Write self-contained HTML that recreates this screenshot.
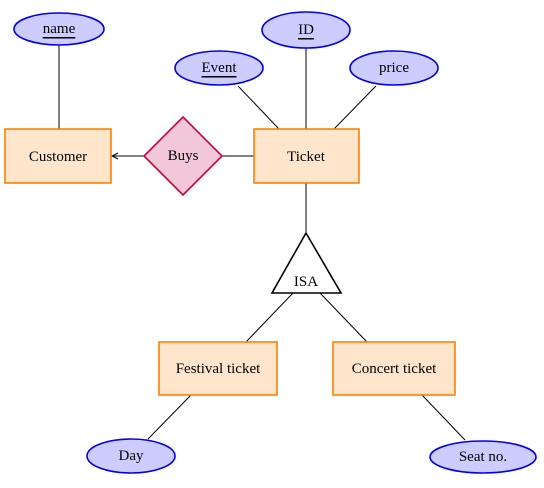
<!DOCTYPE html>
<html><head><meta charset="utf-8"><style>
html,body{margin:0;padding:0;background:#fff;}
svg{display:block;}
text{font-family:"Liberation Serif",serif;font-size:15px;fill:#000;text-anchor:middle;dominant-baseline:central;}
</style></head><body>
<svg width="544" height="488" viewBox="0 0 544 488" xmlns="http://www.w3.org/2000/svg">
<defs><marker id="ar" markerWidth="8" markerHeight="8" refX="7" refY="4" orient="auto" markerUnits="userSpaceOnUse"><path d="M1,1 L7,4 L1,7" fill="none" stroke="#000" stroke-width="1"/></marker></defs>
<g stroke="#000" stroke-width="1" fill="none">
<line x1="59" y1="45" x2="59" y2="129"/>
<line x1="238" y1="86" x2="279" y2="129"/>
<line x1="306" y1="48" x2="306" y2="129"/>
<line x1="376" y1="86" x2="334" y2="129"/>
<line x1="222" y1="156" x2="254" y2="156"/>
<line x1="144" y1="156" x2="112" y2="156" marker-end="url(#ar)"/>
<line x1="306" y1="183" x2="306" y2="233"/>
<line x1="293" y1="293" x2="246" y2="342"/>
<line x1="320" y1="293" x2="367" y2="342"/>
<line x1="191" y1="395" x2="148" y2="439"/>
<line x1="422" y1="395" x2="465" y2="440"/>
</g>
<g fill="#ccccff" stroke="#0000ee" stroke-width="1.6">
<ellipse cx="59" cy="29" rx="45" ry="16"/>
<ellipse cx="306" cy="30" rx="44" ry="18"/>
<ellipse cx="219" cy="68" rx="44" ry="17"/>
<ellipse cx="394" cy="68" rx="44" ry="17"/>
<ellipse cx="131" cy="456" rx="44" ry="17"/>
<ellipse cx="483" cy="457" rx="53" ry="16"/>
</g>
<g fill="#ffe5cc" stroke="#ff8000" stroke-width="1.6">
<rect x="5" y="129" width="106" height="54"/>
<rect x="254" y="129" width="105" height="54"/>
<rect x="159" y="342" width="118" height="53"/>
<rect x="333" y="342" width="122" height="53"/>
</g>
<polygon points="183,117 222,156 183,195 144,156" fill="#f2c8d8" stroke="#cc0044" stroke-width="1.6"/>
<polygon points="306,233 341,293 272,293" fill="#fff" stroke="#000" stroke-width="1.6"/>
<text x="59" y="29" text-decoration="underline">name</text>
<text x="306" y="30" text-decoration="underline">ID</text>
<text x="219" y="68" text-decoration="underline">Event</text>
<text x="394" y="68">price</text>
<text x="58" y="157">Customer</text>
<text x="183" y="156">Buys</text>
<text x="306" y="157">Ticket</text>
<text x="306" y="282">ISA</text>
<text x="218" y="369">Festival ticket</text>
<text x="394" y="369">Concert ticket</text>
<text x="131" y="456">Day</text>
<text x="483" y="457">Seat no.</text>
</svg>
</body></html>
